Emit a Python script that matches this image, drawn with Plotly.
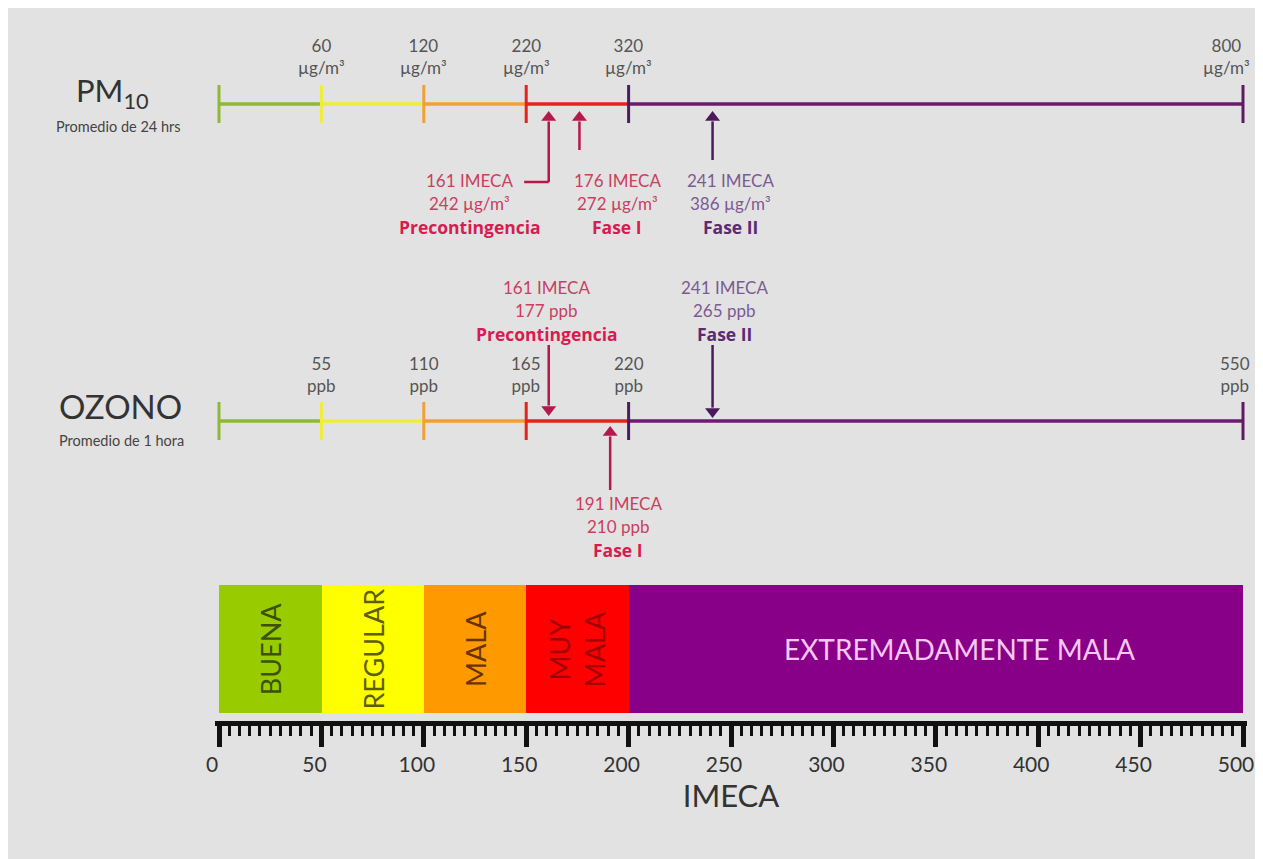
import plotly.graph_objects as go

# ---------------- data ----------------
imeca_bounds = [0, 50, 100, 150, 200, 500]
categories = ["BUENA", "REGULAR", "MALA", "MUY<br>MALA", "EXTREMADAMENTE MALA"]
pm10_values = ["60", "120", "220", "320", "800"]        # at IMECA 50,100,150,200,500
ozone_values = ["55", "110", "165", "220", "550"]
pm10_alert_imeca = [161, 176, 241]
pm10_alert_conc = ["242 µg/m³", "272 µg/m³", "386 µg/m³"]
pm10_alert_name = ["Precontingencia", "Fase I", "Fase II"]
ozone_alert_imeca = [161, 241, 191]
ozone_alert_conc = ["177 ppb", "265 ppb", "210 ppb"]
ozone_alert_name = ["Precontingencia", "Fase II", "Fase I"]
ruler_ticks = list(range(0, 501, 50))

# ---------------- styles ----------------
FONT = "Lato"
BOLD = "Open Sans"
BG = "#e2e2e2"
box_colors = ["#99cc00", "#ffff00", "#ff9900", "#ff0000", "#880088"]
box_text_colors = ["#3d5200", "#5e5e00", "#6a3200", "#a00000", "#f6c8f6"]
line_colors = ["#8db83a", "#eeee3a", "#f2a035", "#e6221e", "#6c1b70"]
tick_colors = ["#8db83a", "#eeee3a", "#f2a035", "#e6221e", "#4e1a60", "#5e1a62"]
RED_T, RED_B, RED_A = "#c8405f", "#d81b50", "#b5184a"
PUR_T, PUR_B, PUR_A = "#7d5a92", "#5a2a72", "#4b1a5c"

# page geometry (browser body margin of 8 px)
OFF = 8
W, H = 1263 - 2 * OFF, 859 - OFF
px_per_unit = 2.048
x0_px = 219
rng = [-2, 502]
def fx(px):
    return (px - OFF) / W
dom = [fx(x0_px + rng[0] * px_per_unit), fx(x0_px + rng[1] * px_per_unit)]

PM_Y, OZ_Y = 104, 421
TICK_HALF = 19
BOX_TOP, BOX_BOT = 585, 713
RULER_Y = 723

fig = go.Figure()

# category boxes (horizontal bars)
fig.add_trace(go.Bar(
    orientation="h",
    y=[(BOX_TOP + BOX_BOT) / 2] * len(categories),
    base=imeca_bounds[:-1],
    x=[imeca_bounds[i + 1] - imeca_bounds[i] for i in range(len(categories))],
    width=BOX_BOT - BOX_TOP,
    marker=dict(color=box_colors, line=dict(width=0)),
    hoverinfo="skip", showlegend=False,
))

# pollutant scale lines
for row_y in (PM_Y, OZ_Y):
    for i in range(len(categories)):
        fig.add_trace(go.Scatter(
            x=[imeca_bounds[i], imeca_bounds[i + 1]], y=[row_y, row_y],
            mode="lines", line=dict(color=line_colors[i], width=3.5),
            hoverinfo="skip", showlegend=False, cliponaxis=False,
        ))
    for i, b in enumerate(imeca_bounds):
        fig.add_trace(go.Scatter(
            x=[b, b], y=[row_y - TICK_HALF, row_y + TICK_HALF],
            mode="lines", line=dict(color=tick_colors[i], width=3),
            hoverinfo="skip", showlegend=False, cliponaxis=False,
        ))

annotations = []

# boundary labels (last one kept inside the right edge)
for vals, unit, ly in ((pm10_values, "µg/m³", 56), (ozone_values, "ppb", 374)):
    for k, (b, v) in enumerate(zip(imeca_bounds[1:], vals)):
        last = k == len(vals) - 1
        annotations.append(dict(x=b, y=ly, xref="x", yref="y", text=f"{v}<br>{unit}",
                                showarrow=False, font=dict(family=FONT, size=17, color="#555"),
                                xanchor="right" if last else "center", xshift=9 if last else 0,
                                align="center", yanchor="middle"))

# left row titles
annotations += [
    dict(x=fx(112), y=92, xref="paper", yref="y", text="PM<sub>10</sub>", showarrow=False,
         xanchor="center", yanchor="middle", font=dict(family=FONT, size=31, color="#333")),
    dict(x=fx(118), y=126, xref="paper", yref="y", text="Promedio de 24 hrs", showarrow=False,
         xanchor="center", yanchor="middle", font=dict(family=FONT, size=14.5, color="#444")),
    dict(x=fx(120), y=406, xref="paper", yref="y", text="OZONO", showarrow=False,
         xanchor="center", yanchor="middle", font=dict(family=FONT, size=33, color="#333")),
    dict(x=fx(121), y=440, xref="paper", yref="y", text="Promedio de 1 hora", showarrow=False,
         xanchor="center", yanchor="middle", font=dict(family=FONT, size=14.5, color="#444")),
]

# alert arrows (line + triangle head) and labels
HEAD = 13
def alert(x, head_y, tail_y, text_y, xshift, conc, name, tcol, bcol, acol):
    d = 1 if tail_y > head_y else -1   # +1 => arrow points up
    fig.add_trace(go.Scatter(x=[x, x], y=[tail_y, head_y + d * HEAD * 0.8], mode="lines",
                             line=dict(color=acol, width=2.5), hoverinfo="skip",
                             showlegend=False, cliponaxis=False))
    fig.add_trace(go.Scatter(x=[x], y=[head_y + d * HEAD * 0.5], mode="markers",
                             marker=dict(symbol="triangle-up" if d == 1 else "triangle-down",
                                         size=HEAD, color=acol, line=dict(width=0)),
                             hoverinfo="skip", showlegend=False, cliponaxis=False))
    lines = [(f"{x} IMECA", tcol, FONT, 17), (conc, tcol, FONT, 17), (f"<b>{name}</b>", bcol, BOLD, 17.5)]
    for k, (t, c, f, s) in enumerate(lines):
        annotations.append(dict(x=x, y=text_y + k * 23.5, xref="x", yref="y", xshift=xshift, text=t,
                                showarrow=False, font=dict(family=f, size=s, color=c),
                                xanchor="center", yanchor="middle"))

pm_cfg = [  # head_y, tail_y, text_y, xshift, colors
    (111, 182, 180, -79, RED_T, RED_B, RED_A),
    (111, 150, 180, 38, RED_T, RED_B, RED_A),
    (111, 160, 180, 18, PUR_T, PUR_B, PUR_A),
]
for v, c, n, cfg in zip(pm10_alert_imeca, pm10_alert_conc, pm10_alert_name, pm_cfg):
    alert(v, cfg[0], cfg[1], cfg[2], cfg[3], c, n, cfg[4], cfg[5], cfg[6])

oz_cfg = [
    (416, 345, 287, -2, RED_T, RED_B, RED_A),
    (418, 345, 287, 12, PUR_T, PUR_B, PUR_A),
    (426, 490, 503, 8, RED_T, RED_B, RED_A),
]
for v, c, n, cfg in zip(ozone_alert_imeca, ozone_alert_conc, ozone_alert_name, oz_cfg):
    alert(v, cfg[0], cfg[1], cfg[2], cfg[3], c, n, cfg[4], cfg[5], cfg[6])

# elbow of the PM10 precontingencia arrow
ELBOW_UNITS = 12
fig.add_trace(go.Scatter(x=[pm10_alert_imeca[0] - ELBOW_UNITS, pm10_alert_imeca[0]], y=[182, 182],
                         mode="lines", line=dict(color=RED_A, width=2.5), hoverinfo="skip",
                         showlegend=False, cliponaxis=False))

# category labels inside boxes
box_mid = (BOX_TOP + BOX_BOT) / 2
for i, cat in enumerate(categories):
    xm = (imeca_bounds[i] + imeca_bounds[i + 1]) / 2
    if i < 4:
        annotations.append(dict(x=xm, y=box_mid, xref="x", yref="y", text=cat, showarrow=False,
                                textangle=-90, font=dict(family=FONT, size=27, color=box_text_colors[i]),
                                xanchor="center", yanchor="middle"))
    else:
        annotations.append(dict(x=xm, y=box_mid, xref="x", yref="y", xshift=24, text=cat, showarrow=False,
                                font=dict(family=FONT, size=28, color=box_text_colors[i]),
                                xanchor="center", yanchor="middle"))

fig.update_layout(
    width=W, height=H, margin=dict(l=0, r=0, t=0, b=0, autoexpand=False),
    paper_bgcolor=BG, plot_bgcolor=BG,
    annotations=annotations, bargap=0,
    xaxis=dict(
        domain=dom, range=rng, anchor="free", position=1 - (RULER_Y - OFF) / H,
        automargin=False,
        showgrid=False, zeroline=False, showline=True, linecolor="#111", linewidth=5,
        tickmode="array", tickvals=ruler_ticks, ticktext=[str(t) for t in ruler_ticks],
        ticks="outside", ticklen=21, tickwidth=5, tickcolor="#111",
        minor=dict(dtick=5, ticks="outside", ticklen=10, tickwidth=2.5, tickcolor="#111"),
        tickfont=dict(family=FONT, size=21, color="#333"),
        ticklabelshift=-7, ticklabeloverflow="allow",
        title=dict(text="IMECA", font=dict(family=FONT, size=31, color="#333"), standoff=10),
        fixedrange=True,
    ),
    yaxis=dict(domain=[0, 1], range=[859, OFF], visible=False, fixedrange=True, automargin=False),
)

fig.write_html("out.html")
